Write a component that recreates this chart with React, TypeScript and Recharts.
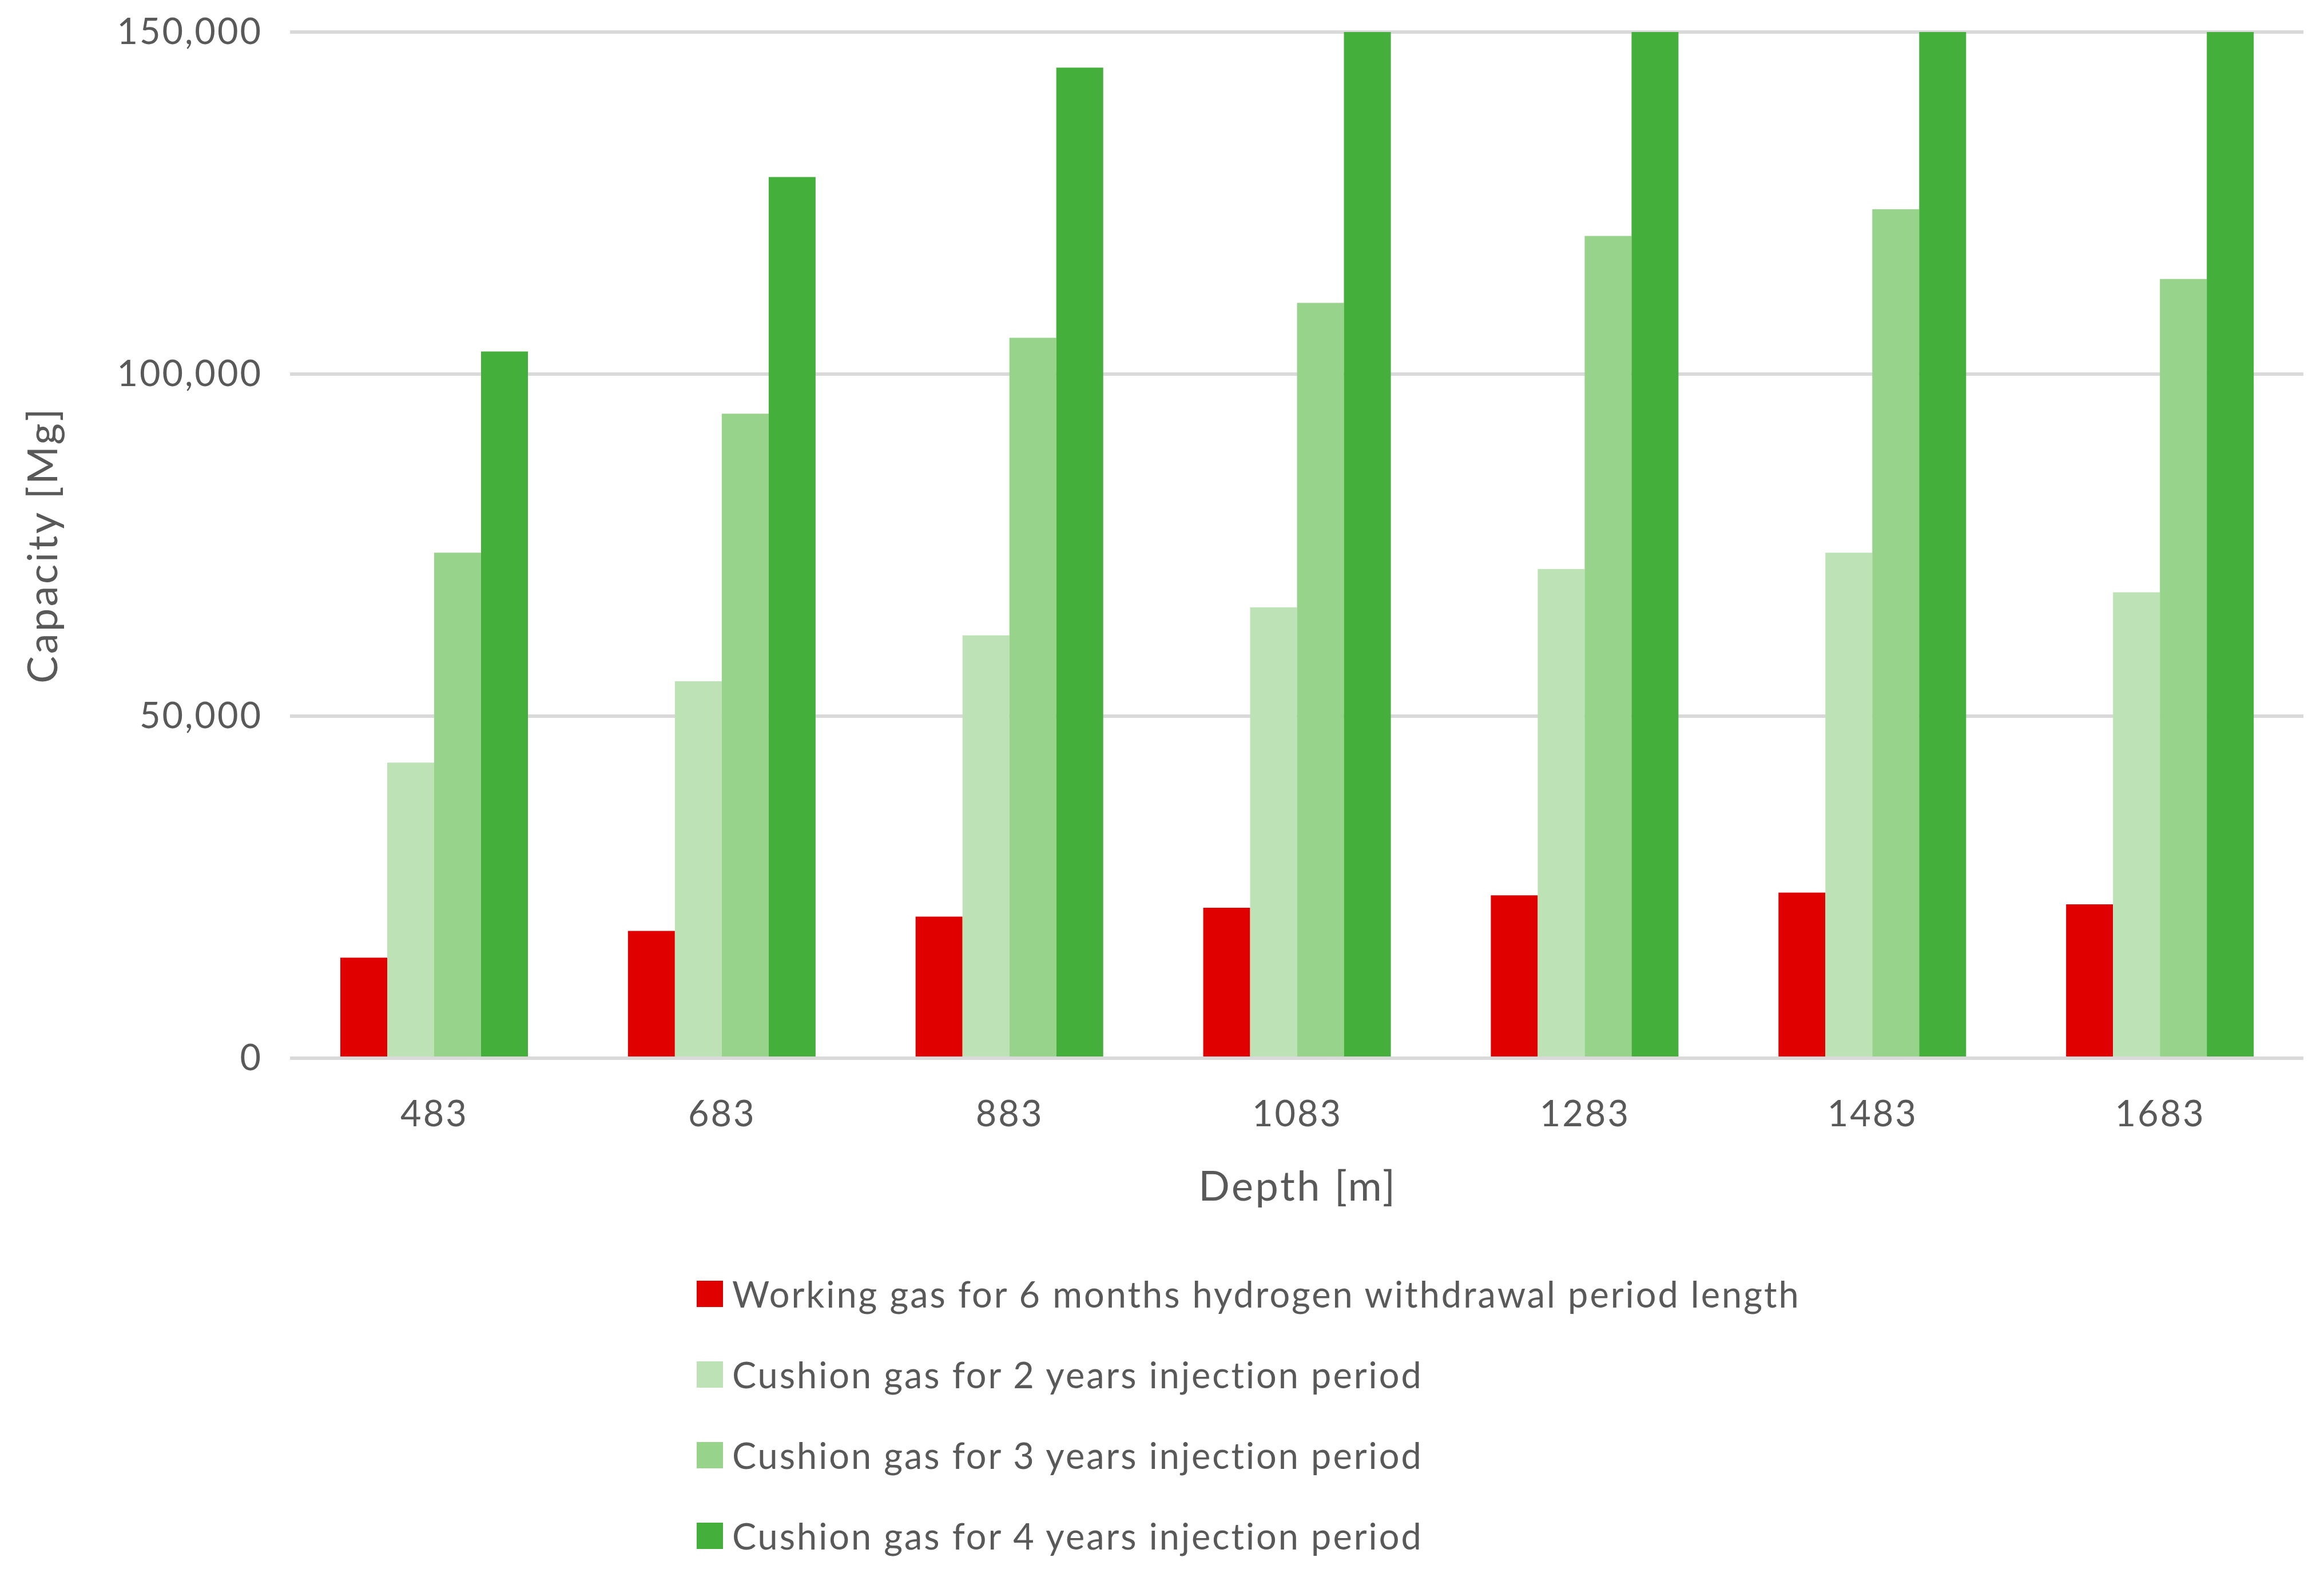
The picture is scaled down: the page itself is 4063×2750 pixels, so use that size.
import React from 'react';
import { BarChart, Bar, XAxis, YAxis, CartesianGrid, Legend } from 'recharts';

const depths = ['483', '683', '883', '1083', '1283', '1483', '1683'];
const workingGas = [14700, 18600, 20700, 22000, 23800, 24200, 22500];
const cushion2y = [43200, 55100, 61800, 65900, 71500, 73900, 68100];
const cushion3y = [73900, 94200, 105300, 110400, 120200, 124100, 113900];
// bars from 1083 m upward run past the 150,000 axis limit and are clipped
const cushion4y = [103300, 128800, 144800, 151000, 165000, 170000, 156000];
const yTicks = [0, 50000, 100000, 150000];

const seriesList = [
  { key: 'working', name: 'Working gas for 6 months hydrogen withdrawal period length', color: '#e00000' },
  { key: 'c2', name: 'Cushion gas for 2 years injection period', color: '#bce2b5' },
  { key: 'c3', name: 'Cushion gas for 3 years injection period', color: '#98d38b' },
  { key: 'c4', name: 'Cushion gas for 4 years injection period', color: '#44af3b' },
];

const data = depths.map((d, i) => ({
  depth: d,
  working: workingGas[i],
  c2: cushion2y[i],
  c3: cushion3y[i],
  c4: cushion4y[i],
}));

const FONT = 'Lato, "Open Sans", sans-serif';
const TEXT = '#595959';

const XTick = (props: any) => {
  const { x, y, payload } = props;
  return (
    <text x={x + 1} y={y + 119} textAnchor="middle" fill={TEXT} fontSize={63} fontFamily={FONT} style={{ letterSpacing: 3 }}>
      {payload.value}
    </text>
  );
};

const YTick = (props: any) => {
  const { x, y, payload } = props;
  return (
    <text x={x - 48} y={y + 21} textAnchor="end" fill={TEXT} fontSize={63} fontFamily={FONT} style={{ letterSpacing: 3 }}>
      {Number(payload.value).toLocaleString('en-US')}
    </text>
  );
};

const LegendBox = () => (
  <div style={{ fontFamily: FONT, fontSize: 63, color: TEXT, letterSpacing: 3 }}>
    {seriesList.map((s) => (
      <div key={s.key} style={{ display: 'flex', alignItems: 'center', height: 141 }}>
        <div style={{ width: 46, height: 46, background: s.color, marginRight: 16 }} />
        <span style={{ whiteSpace: 'nowrap' }}>{s.name}</span>
      </div>
    ))}
  </div>
);

const App: React.FC = () => {
  return (
    <div style={{ width: 4047, height: 2734, background: '#fff' }}>
      <BarChart
        width={4047}
        height={2734}
        data={data}
        margin={{ top: 48, right: 28, left: 0, bottom: 592 }}
        barCategoryGap="17.5%"
        barGap={0}
      >
        <CartesianGrid vertical={false} stroke="#d9d9d9" strokeWidth={6} />
        <XAxis
          dataKey="depth"
          height={300}
          tickLine={false}
          tickSize={0}
          tickMargin={0}
          axisLine={{ stroke: '#d9d9d9', strokeWidth: 6 }}
          tick={<XTick />}
          interval={0}
          label={{
            content: (p: any) => {
              const vb = p.viewBox;
              return (
                <text x={vb.x + vb.width / 2 + 2} y={vb.y + 249} textAnchor="middle" fill={TEXT} fontSize={72} fontFamily={FONT} style={{ letterSpacing: 3.5 }}>
                  Depth [m]
                </text>
              );
            },
          }}
        />
        <YAxis
          width={499}
          domain={[0, 150000]}
          ticks={yTicks}
          allowDataOverflow
          axisLine={false}
          tickLine={false}
          tickSize={0}
          tickMargin={0}
          tick={<YTick />}
          label={{
            content: (p: any) => {
              const vb = p.viewBox;
              const cx = vb.x + 92;
              const cy = vb.y + vb.height / 2;
              return (
                <text x={cx} y={cy} transform={`rotate(-90, ${cx}, ${cy})`} textAnchor="middle" fill={TEXT} fontSize={72} fontFamily={FONT} style={{ letterSpacing: 3.5 }}>
                  Capacity [Mg]
                </text>
              );
            },
          }}
        />
        <Legend
          layout="vertical"
          align="center"
          verticalAlign="middle"
          wrapperStyle={{ left: 1210, top: 2183, width: 'auto' }}
          content={<LegendBox />}
        />
        {seriesList.map((s) => (
          <Bar key={s.key} dataKey={s.key} name={s.name} fill={s.color} isAnimationActive={false} />
        ))}
      </BarChart>
    </div>
  );
};

export default App;
